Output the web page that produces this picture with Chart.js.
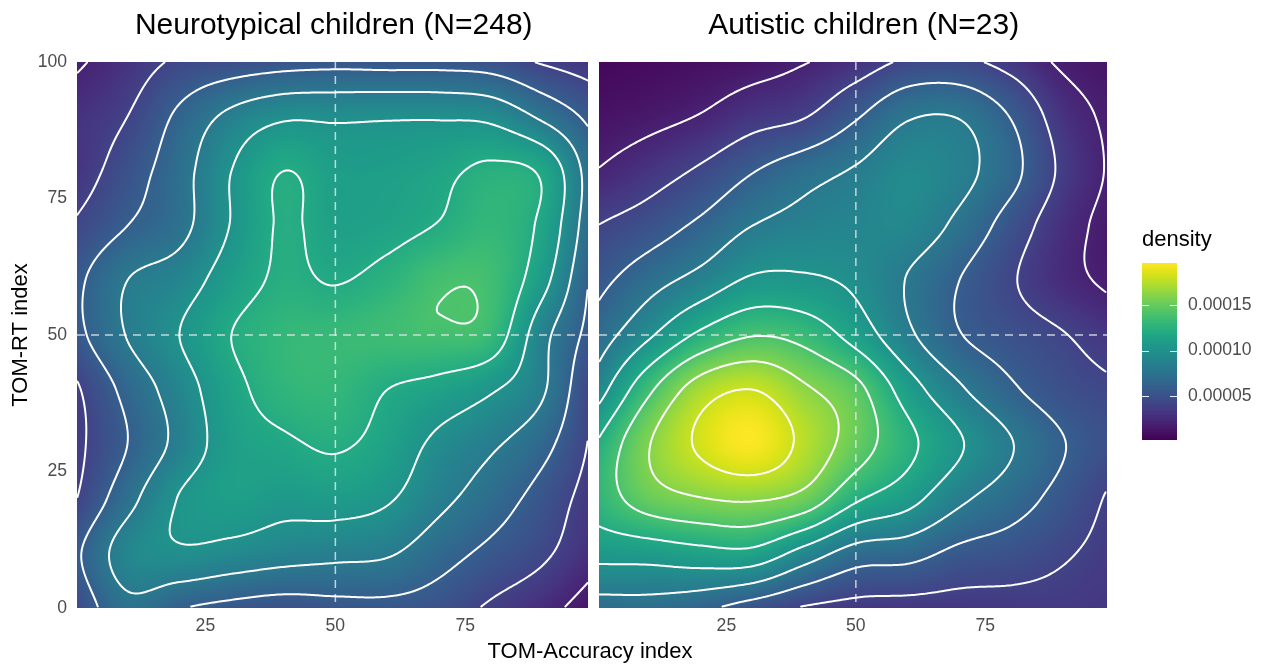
<!DOCTYPE html>
<html>
<head>
<meta charset="utf-8">
<title>TOM density</title>
<script src="https://cdn.jsdelivr.net/npm/chart.js@4.4.1/dist/chart.umd.min.js"></script>
<style>
  html, body { margin:0; padding:0; background:#ffffff; }
  #stage { position:relative; width:1262px; height:666px; overflow:hidden; background:#fff; }
  #stage canvas { position:absolute; top:0; }
  #xTitle { position:absolute; left:340px; width:500px; top:638px; line-height:26px; text-align:center;
            font-family:"Liberation Sans", Arial, Helvetica, sans-serif; font-size:22px; color:#000; }
</style>
</head>
<body>
<div id="stage">
  <canvas id="panelNeuro" width="592" height="666" style="left:0px"></canvas>
  <canvas id="panelAutistic" width="520" height="666" style="left:592px"></canvas>
  <canvas id="legendBar" width="150" height="666" style="left:1112px"></canvas>
  <div id="xTitle">TOM-Accuracy index</div>
</div>
<script>
// ---------------- data (density in units of 1e-5) ----------------
const DENSITY_UNIT = 1e-5;
const gridX = [0, 10, 20, 30, 40, 50, 60, 70, 80, 90, 100];   // TOM-Accuracy index nodes
const gridY = [0, 10, 20, 30, 40, 50, 60, 70, 80, 90, 100];   // TOM-RT index nodes (rows)

// rows: y = 0, 10, ..., 100 ; columns: x = 0, 10, ..., 100
const neurotypicalDensity = [
  [4.5, 7.4, 6.1, 5.4, 5.0, 5.3, 5.4, 5.0, 3.7, 2.6, 1.0],
  [5.6, 9.0, 9.7, 9.3, 8.8, 8.5, 8.2, 6.8, 5.5, 4.3, 2.5],
  [3.9, 7.3, 10.1, 11.0, 10.6, 10.8, 10.2, 8.5, 7.0, 5.2, 3.0],
  [3.5, 6.0, 8.6, 11.0, 11.7, 12.2, 11.3, 9.5, 8.3, 6.6, 3.5],
  [3.7, 6.6, 9.0, 11.4, 12.8, 13.0, 12.0, 11.3, 10.2, 8.2, 3.6],
  [5.4, 8.1, 10.0, 12.0, 13.0, 13.2, 13.5, 13.73, 13.18, 8.6, 5.0],
  [5.5, 8.0, 9.0, 11.0, 12.3, 11.9, 12.6, 13.78, 13.58, 10.6, 5.3],
  [4.2, 6.0, 7.4, 10.1, 12.2, 11.2, 11.4, 12.1, 13.0, 11.5, 6.2],
  [3.0, 5.0, 7.2, 10.0, 12.0, 11.0, 11.0, 11.5, 12.4, 11.6, 6.5],
  [2.9, 4.0, 6.4, 8.5, 9.7, 9.7, 9.8, 9.8, 9.5, 7.6, 5.3],
  [1.7, 3.0, 4.3, 4.8, 5.2, 5.4, 5.3, 5.3, 5.0, 3.8, 3.0]
];
const autisticDensity = [
  [7.1, 7.1, 6.4, 5.0, 3.8, 3.3, 3.2, 3.2, 3.3, 3.4, 3.2],
  [10.6, 10.8, 11.3, 11.4, 9.2, 7.1, 6.7, 5.5, 5.0, 4.2, 3.4],
  [12.8, 15.0, 15.9, 16.2, 15.3, 12.3, 10.7, 8.4, 6.9, 5.3, 3.6],
  [12.1, 15.9, 18.3, 19.5, 17.5, 15.0, 12.5, 10.2, 8.1, 6.1, 4.6],
  [9.0, 13.6, 17.0, 18.0, 16.3, 14.6, 11.0, 8.3, 6.3, 4.9, 4.2],
  [6.9, 9.7, 12.4, 13.9, 13.3, 11.2, 8.4, 6.1, 5.0, 4.1, 3.0],
  [5.4, 7.2, 8.7, 10.3, 10.3, 9.6, 7.9, 6.0, 4.2, 2.6, 1.6],
  [4.0, 5.0, 6.4, 8.0, 8.7, 9.0, 9.1, 7.5, 5.1, 2.8, 1.3],
  [2.05, 3.1, 4.3, 5.9, 7.2, 8.2, 9.3, 8.6, 6.6, 3.6, 1.6],
  [1.1, 1.5, 2.1, 3.2, 3.9, 5.8, 7.8, 7.9, 5.9, 3.0, 1.5],
  [0.5, 0.7, 0.9, 1.2, 1.9, 2.9, 4.3, 4.4, 3.3, 1.7, 1.2]
];
const contourLevels = [2, 4, 6, 8, 10, 12, 14, 16, 18];
const panelTitles = ['Neurotypical children (N=248)', 'Autistic children (N=23)'];
const xTicks = [25, 50, 75];
const yTicks = [0, 25, 50, 75, 100];
const legendTicks = [0.00005, 0.0001, 0.00015];
const referenceX = 50;
const referenceY = 50;
const xRange = [0.3, 98.5];
const yRange = [0, 100];
const legendRange = [0.0000016, 0.000196];

// ---------------- colour scale ----------------
const viridisStops = ['#440154','#471365','#482475','#463480','#414487','#3b528b','#355f8d','#2f6c8e',
  '#2a788e','#25848e','#21918c','#1e9c89','#22a884','#2fb47c','#44bf70','#5ec962','#7ad151',
  '#9bd93c','#bddf26','#dfe318','#fde725'];
const viridisRGB = viridisStops.map(h => [parseInt(h.slice(1,3),16), parseInt(h.slice(3,5),16), parseInt(h.slice(5,7),16)]);
function viridis(t) {
  t = Math.min(1, Math.max(0, t));
  const pos = t * (viridisRGB.length - 1);
  const k = Math.min(viridisRGB.length - 2, Math.floor(pos));
  const u = pos - k, c0 = viridisRGB[k], c1 = viridisRGB[k + 1];
  return [c0[0] + (c1[0] - c0[0]) * u, c0[1] + (c1[1] - c0[1]) * u, c0[2] + (c1[2] - c0[2]) * u];
}
function densityToT(v) { return (v - legendRange[0]) / (legendRange[1] - legendRange[0]); }

// ---------------- smooth rendering of the grid ----------------
function nodeValue(grid, r, c) {
  const R = grid.length, C = grid[0].length;
  if (r < 0) return 2 * nodeValue(grid, 0, c) - nodeValue(grid, 1, c);
  if (r > R - 1) return 2 * nodeValue(grid, R - 1, c) - nodeValue(grid, R - 2, c);
  if (c < 0) return 2 * nodeValue(grid, r, 0) - nodeValue(grid, r, 1);
  if (c > C - 1) return 2 * nodeValue(grid, r, C - 1) - nodeValue(grid, r, C - 2);
  return grid[r][c];
}
function cr(p0, p1, p2, p3, t) {
  return 0.5 * ((2 * p1) + (-p0 + p2) * t + (2 * p0 - 5 * p1 + 4 * p2 - p3) * t * t + (-p0 + 3 * p1 - 3 * p2 + p3) * t * t * t);
}
function sampleGrid(grid, x, y) {
  const sx = gridX[1] - gridX[0], sy = gridY[1] - gridY[0];
  const fx = (x - gridX[0]) / sx, fy = (y - gridY[0]) / sy;
  let ix = Math.floor(fx), iy = Math.floor(fy);
  ix = Math.max(0, Math.min(gridX.length - 2, ix));
  iy = Math.max(0, Math.min(gridY.length - 2, iy));
  const tx = fx - ix, ty = fy - iy;
  const r = [];
  for (let k = -1; k <= 2; k++) {
    r.push(cr(nodeValue(grid, iy + k, ix - 1), nodeValue(grid, iy + k, ix), nodeValue(grid, iy + k, ix + 1), nodeValue(grid, iy + k, ix + 2), tx));
  }
  return cr(r[0], r[1], r[2], r[3], ty);
}

function drawContours(ctx, vals, W, H, L, T, levels) {
  const s = 2;
  const nx = Math.floor((W - 1) / s) + 1, ny = Math.floor((H - 1) / s) + 1;
  const f = new Float32Array(nx * ny);
  for (let j = 0; j < ny; j++) for (let i = 0; i < nx; i++) f[j * nx + i] = vals[(j * s) * W + i * s];
  const px = i => L + i * s + 0.5, py = j => T + j * s + 0.5;
  const seg = (p, q) => { ctx.moveTo(p[0], p[1]); ctx.lineTo(q[0], q[1]); };
  for (const lv of levels) {
    ctx.beginPath();
    for (let j = 0; j < ny - 1; j++) {
      for (let i = 0; i < nx - 1; i++) {
        const a = f[j * nx + i], b = f[j * nx + i + 1], c = f[(j + 1) * nx + i + 1], d = f[(j + 1) * nx + i];
        const A = a >= lv, B = b >= lv, C = c >= lv, D = d >= lv;
        if (A === B && B === C && C === D) continue;
        const top = A !== B ? [px(i) + s * (lv - a) / (b - a), py(j)] : null;
        const right = B !== C ? [px(i + 1), py(j) + s * (lv - b) / (c - b)] : null;
        const bottom = D !== C ? [px(i) + s * (lv - d) / (c - d), py(j + 1)] : null;
        const left = A !== D ? [px(i), py(j) + s * (lv - a) / (d - a)] : null;
        const e = [top, right, bottom, left].filter(Boolean);
        if (e.length === 2) seg(e[0], e[1]);
        else if (e.length === 4) {
          const center = (a + b + c + d) / 4 >= lv;
          if (center === A) { seg(top, right); seg(bottom, left); }
          else { seg(top, left); seg(right, bottom); }
        }
      }
    }
    ctx.stroke();
  }
}

function makeDensityPlugin(grid, titleShift) {
  return {
    id: 'densityField',
    afterLayout(chart) {
      if (chart.titleBlock && titleShift) {
        chart.titleBlock.left += titleShift;
        chart.titleBlock.right += titleShift;
      }
    },
    beforeDatasetsDraw(chart) {
      const { ctx, chartArea: a, scales } = chart;
      const xs = scales.x, ys = scales.y;
      const L = Math.round(a.left), T = Math.round(a.top);
      const W = Math.round(a.right) - L, H = Math.round(a.bottom) - T;
      const xv = new Float32Array(W);
      for (let i = 0; i < W; i++) xv[i] = xs.getValueForPixel(L + i + 0.5);
      const vals = new Float32Array(W * H);
      const off = document.createElement('canvas');
      off.width = W; off.height = H;
      const octx = off.getContext('2d');
      const img = octx.createImageData(W, H);
      for (let j = 0; j < H; j++) {
        const yv = ys.getValueForPixel(T + j + 0.5);
        for (let i = 0; i < W; i++) {
          const v = sampleGrid(grid, xv[i], yv);
          const k = j * W + i;
          vals[k] = v;
          const col = viridis(densityToT(v * DENSITY_UNIT));
          img.data[k * 4] = col[0]; img.data[k * 4 + 1] = col[1]; img.data[k * 4 + 2] = col[2]; img.data[k * 4 + 3] = 255;
        }
      }
      octx.putImageData(img, 0, 0);
      ctx.save();
      ctx.drawImage(off, L, T);
      ctx.beginPath(); ctx.rect(L, T, W, H); ctx.clip();
      // dashed reference lines
      ctx.strokeStyle = 'rgba(225,228,232,0.85)';
      ctx.lineWidth = 1.5;
      ctx.setLineDash([8, 6]);
      const rx = xs.getPixelForValue(referenceX), ry = ys.getPixelForValue(referenceY);
      ctx.beginPath(); ctx.moveTo(rx, T); ctx.lineTo(rx, T + H); ctx.stroke();
      ctx.beginPath(); ctx.moveTo(L, ry); ctx.lineTo(L + W, ry); ctx.stroke();
      ctx.setLineDash([]);
      // contour lines
      ctx.strokeStyle = '#ffffff';
      ctx.lineWidth = 2;
      ctx.lineCap = 'round';
      ctx.lineJoin = 'round';
      drawContours(ctx, vals, W, H, L, T, contourLevels);
      ctx.restore();
    }
  };
}

// ---------------- charts ----------------
const FONT = '"Liberation Sans", Arial, Helvetica, sans-serif';
Chart.defaults.font.family = FONT;

function panelConfig(title, grid, showY, pad, titleShift) {
  return {
    type: 'scatter',
    data: { datasets: [] },
    options: {
      responsive: false, animation: false, devicePixelRatio: 1,
      layout: { padding: pad },
      plugins: {
        legend: { display: false }, tooltip: { enabled: false },
        title: { display: true, text: title, fullSize: false, color: '#000',
                 font: { size: 30, weight: 'normal', family: FONT }, padding: { top: 8, bottom: 18 } }
      },
      scales: {
        x: {
          type: 'linear', min: xRange[0], max: xRange[1],
          afterBuildTicks: s => { s.ticks = xTicks.map(v => ({ value: v })); },
          ticks: { color: '#4d4d4d', font: { size: 17.6, family: FONT }, padding: 8, maxRotation: 0 },
          grid: { display: false, drawTicks: false }, border: { display: false },
          afterFit: s => { s.height = 58; }
        },
        y: {
          type: 'linear', min: yRange[0], max: yRange[1], display: showY,
          afterBuildTicks: s => { s.ticks = yTicks.map(v => ({ value: v })); },
          ticks: { color: '#4d4d4d', font: { size: 17.6, family: FONT }, padding: 10 },
          grid: { display: false, drawTicks: false }, border: { display: false },
          title: { display: true, text: 'TOM-RT index', color: '#000', font: { size: 22, family: FONT }, padding: { top: 8, bottom: 0 } },
          afterFit: s => { s.width = showY ? 77 : 0; }
        }
      }
    },
    plugins: [makeDensityPlugin(grid, titleShift)]
  };
}

new Chart(document.getElementById('panelNeuro'), panelConfig(panelTitles[0], neurotypicalDensity, true, { left: 0, right: 4.5, top: 0, bottom: 0 }, 1.5));
new Chart(document.getElementById('panelAutistic'), panelConfig(panelTitles[1], autisticDensity, false, { left: 6.5, right: 5, top: 0, bottom: 0 }, 11));

const colorbarPlugin = {
  id: 'colorbar',
  beforeDatasetsDraw(chart) {
    const { ctx, chartArea: a, scales: { y } } = chart;
    const L = Math.round(a.left), R = Math.round(a.right);
    const T = Math.round(a.top), B = Math.round(a.bottom);
    for (let py = T; py < B; py++) {
      const v = y.getValueForPixel(py + 0.5);
      const c = viridis(densityToT(v));
      ctx.fillStyle = `rgb(${c[0] | 0},${c[1] | 0},${c[2] | 0})`;
      ctx.fillRect(L, py, R - L, 1);
    }
    ctx.save();
    ctx.strokeStyle = 'rgba(255,255,255,0.9)';
    ctx.lineWidth = 1;
    for (const t of legendTicks) {
      const py = Math.round(y.getPixelForValue(t)) + 0.5;
      ctx.beginPath();
      ctx.moveTo(L, py); ctx.lineTo(L + 7, py);
      ctx.moveTo(R - 7, py); ctx.lineTo(R, py);
      ctx.stroke();
    }
    ctx.restore();
  }
};

new Chart(document.getElementById('legendBar'), {
  type: 'scatter',
  data: { datasets: [] },
  options: {
    responsive: false, animation: false, devicePixelRatio: 1,
    layout: { padding: { left: 30, right: 0, top: 227, bottom: 226 } },
    plugins: {
      legend: { display: false }, tooltip: { enabled: false },
      title: { display: true, text: 'density', align: 'start', fullSize: true, color: '#000',
               font: { size: 22, weight: 'normal', family: FONT }, padding: { top: 0, bottom: 10 } }
    },
    scales: {
      x: { display: false, min: 0, max: 1 },
      y: {
        position: 'right', min: legendRange[0], max: legendRange[1],
        afterBuildTicks: s => { s.ticks = legendTicks.map(v => ({ value: v })); },
        ticks: { color: '#4d4d4d', font: { size: 17.6, family: FONT }, padding: 11, callback: v => Number(v).toFixed(5) },
        grid: { display: false, drawTicks: false }, border: { display: false },
        afterFit: s => { s.width = 85; }
      }
    }
  },
  plugins: [colorbarPlugin]
});
</script>
</body>
</html>
